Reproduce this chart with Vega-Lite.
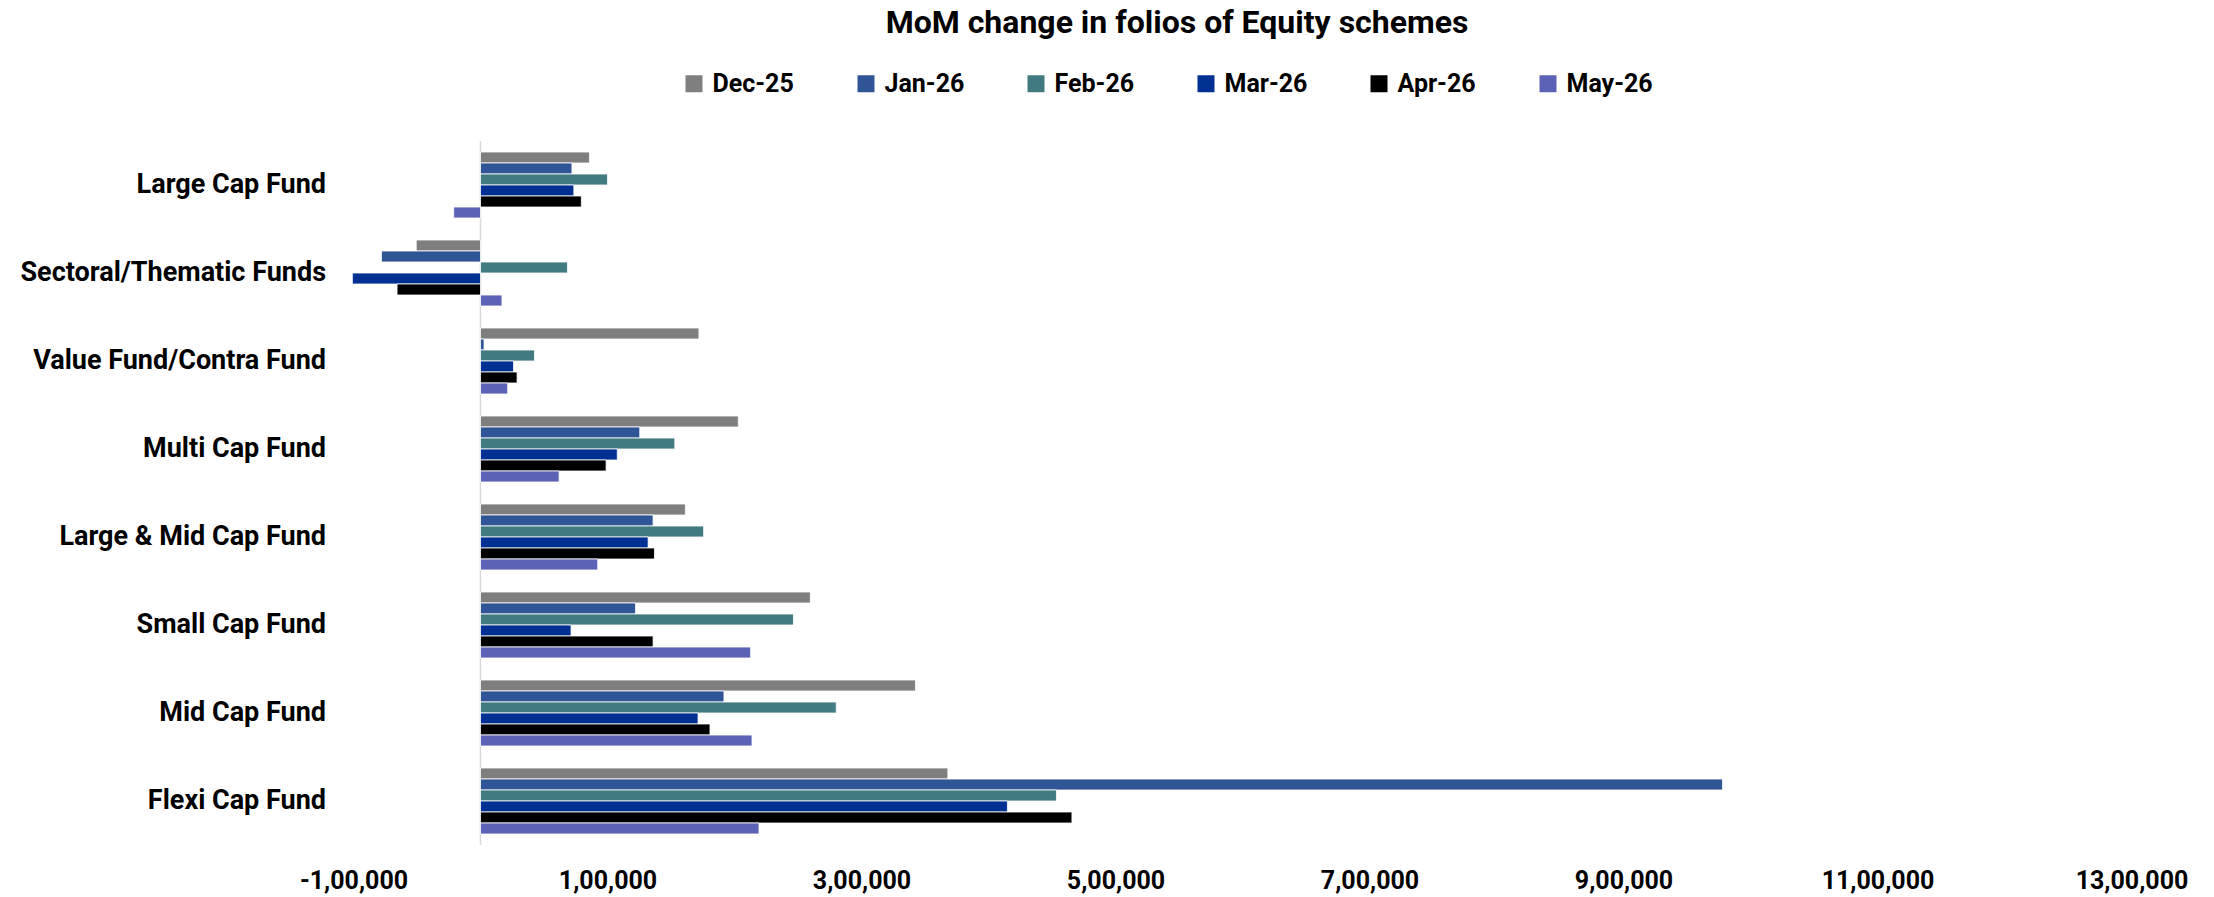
{
  "$schema": "https://vega.github.io/schema/vega-lite/v6.json",
  "width": 1778,
  "height": 704,
  "autosize": {"type": "none"},
  "padding": {"left": 353.5, "top": 141, "right": 82.5, "bottom": 52},
  "background": "white",
  "title": {"text": "MoM change in folios of Equity schemes", "font": "Roboto", "fontSize": 32, "fontWeight": "bold", "color": "#000000", "anchor": "middle", "dx": -65.5, "offset": 31},
  "config": {"view": {"stroke": null}, "font": "Roboto"},
  "layer": [
    {
      "data": {"values": [{"zero": 0}]},
      "mark": {"type": "rule", "color": "#d9d9d9", "strokeWidth": 1.5},
      "encoding": {
        "x": {"field": "zero", "type": "quantitative", "scale": {"domain": [-100000, 1300000], "nice": false, "zero": false}}
      }
    },
    {
      "data": {"values": [
        {"fund": "Large Cap Fund", "month": "Dec-25", "change": 85800},
        {"fund": "Large Cap Fund", "month": "Jan-26", "change": 72000},
        {"fund": "Large Cap Fund", "month": "Feb-26", "change": 100000},
        {"fund": "Large Cap Fund", "month": "Mar-26", "change": 73500},
        {"fund": "Large Cap Fund", "month": "Apr-26", "change": 79400},
        {"fund": "Large Cap Fund", "month": "May-26", "change": -21100},
        {"fund": "Sectoral/Thematic Funds", "month": "Dec-25", "change": -50600},
        {"fund": "Sectoral/Thematic Funds", "month": "Jan-26", "change": -78000},
        {"fund": "Sectoral/Thematic Funds", "month": "Feb-26", "change": 68500},
        {"fund": "Sectoral/Thematic Funds", "month": "Mar-26", "change": -100900},
        {"fund": "Sectoral/Thematic Funds", "month": "Apr-26", "change": -65700},
        {"fund": "Sectoral/Thematic Funds", "month": "May-26", "change": 16900},
        {"fund": "Value Fund/Contra Fund", "month": "Dec-25", "change": 172000},
        {"fund": "Value Fund/Contra Fund", "month": "Jan-26", "change": 2800},
        {"fund": "Value Fund/Contra Fund", "month": "Feb-26", "change": 42500},
        {"fund": "Value Fund/Contra Fund", "month": "Mar-26", "change": 26000},
        {"fund": "Value Fund/Contra Fund", "month": "Apr-26", "change": 28800},
        {"fund": "Value Fund/Contra Fund", "month": "May-26", "change": 21400},
        {"fund": "Multi Cap Fund", "month": "Dec-25", "change": 203000},
        {"fund": "Multi Cap Fund", "month": "Jan-26", "change": 125400},
        {"fund": "Multi Cap Fund", "month": "Feb-26", "change": 153000},
        {"fund": "Multi Cap Fund", "month": "Mar-26", "change": 107700},
        {"fund": "Multi Cap Fund", "month": "Apr-26", "change": 98900},
        {"fund": "Multi Cap Fund", "month": "May-26", "change": 61900},
        {"fund": "Large & Mid Cap Fund", "month": "Dec-25", "change": 161300},
        {"fund": "Large & Mid Cap Fund", "month": "Jan-26", "change": 135900},
        {"fund": "Large & Mid Cap Fund", "month": "Feb-26", "change": 175700},
        {"fund": "Large & Mid Cap Fund", "month": "Mar-26", "change": 132000},
        {"fund": "Large & Mid Cap Fund", "month": "Apr-26", "change": 137000},
        {"fund": "Large & Mid Cap Fund", "month": "May-26", "change": 92300},
        {"fund": "Small Cap Fund", "month": "Dec-25", "change": 259700},
        {"fund": "Small Cap Fund", "month": "Jan-26", "change": 122100},
        {"fund": "Small Cap Fund", "month": "Feb-26", "change": 246400},
        {"fund": "Small Cap Fund", "month": "Mar-26", "change": 71300},
        {"fund": "Small Cap Fund", "month": "Apr-26", "change": 135900},
        {"fund": "Small Cap Fund", "month": "May-26", "change": 212700},
        {"fund": "Mid Cap Fund", "month": "Dec-25", "change": 342500},
        {"fund": "Mid Cap Fund", "month": "Jan-26", "change": 191700},
        {"fund": "Mid Cap Fund", "month": "Feb-26", "change": 280100},
        {"fund": "Mid Cap Fund", "month": "Mar-26", "change": 171300},
        {"fund": "Mid Cap Fund", "month": "Apr-26", "change": 180700},
        {"fund": "Mid Cap Fund", "month": "May-26", "change": 213800},
        {"fund": "Flexi Cap Fund", "month": "Dec-25", "change": 368000},
        {"fund": "Flexi Cap Fund", "month": "Jan-26", "change": 978000},
        {"fund": "Flexi Cap Fund", "month": "Feb-26", "change": 453500},
        {"fund": "Flexi Cap Fund", "month": "Mar-26", "change": 414900},
        {"fund": "Flexi Cap Fund", "month": "Apr-26", "change": 465700},
        {"fund": "Flexi Cap Fund", "month": "May-26", "change": 219300}
      ]},
      "mark": {"type": "bar", "stroke": "#ffffff", "strokeWidth": 0.8},
      "encoding": {
        "y": {
          "field": "fund", "type": "nominal",
          "sort": ["Large Cap Fund", "Sectoral/Thematic Funds", "Value Fund/Contra Fund", "Multi Cap Fund", "Large & Mid Cap Fund", "Small Cap Fund", "Mid Cap Fund", "Flexi Cap Fund"],
          "scale": {"paddingInner": 0.25, "paddingOuter": 0.125},
          "axis": {"title": null, "domain": false, "ticks": false, "labelFont": "Roboto", "labelFontSize": 27, "labelFontWeight": "bold", "labelColor": "#000000", "labelPadding": 28, "labelLimit": 500}
        },
        "yOffset": {"field": "month", "type": "nominal", "sort": ["Dec-25", "Jan-26", "Feb-26", "Mar-26", "Apr-26", "May-26"]},
        "x": {
          "field": "change", "type": "quantitative",
          "scale": {"domain": [-100000, 1300000], "nice": false, "zero": false},
          "axis": {"title": null, "domain": false, "ticks": false, "grid": false,
            "values": [-100000, 100000, 300000, 500000, 700000, 900000, 1100000, 1300000],
            "labelExpr": "(datum.value < 0 ? '-' : '') + format(abs(datum.value) / 100000, 'd') + ',00,000'",
            "labelFont": "Roboto", "labelFontSize": 25, "labelFontWeight": "bold", "labelColor": "#000000", "labelPadding": 23, "labelFlush": false, "labelOverlap": false}
        },
        "color": {
          "field": "month", "type": "nominal",
          "sort": ["Dec-25", "Jan-26", "Feb-26", "Mar-26", "Apr-26", "May-26"],
          "scale": {"domain": ["Dec-25", "Jan-26", "Feb-26", "Mar-26", "Apr-26", "May-26"], "range": ["#7F7F7F", "#2F5597", "#417A80", "#003092", "#000000", "#5C63B7"]},
          "legend": {"title": null, "orient": "none", "direction": "horizontal", "legendX": 328, "legendY": -70, "symbolType": "square", "symbolSize": 289, "symbolStrokeWidth": 0, "labelFont": "Roboto", "labelFontSize": 25, "labelFontWeight": "bold", "labelColor": "#000000", "columnPadding": 59, "labelOffset": 6, "padding": 0}
        }
      }
    }
  ]
}
